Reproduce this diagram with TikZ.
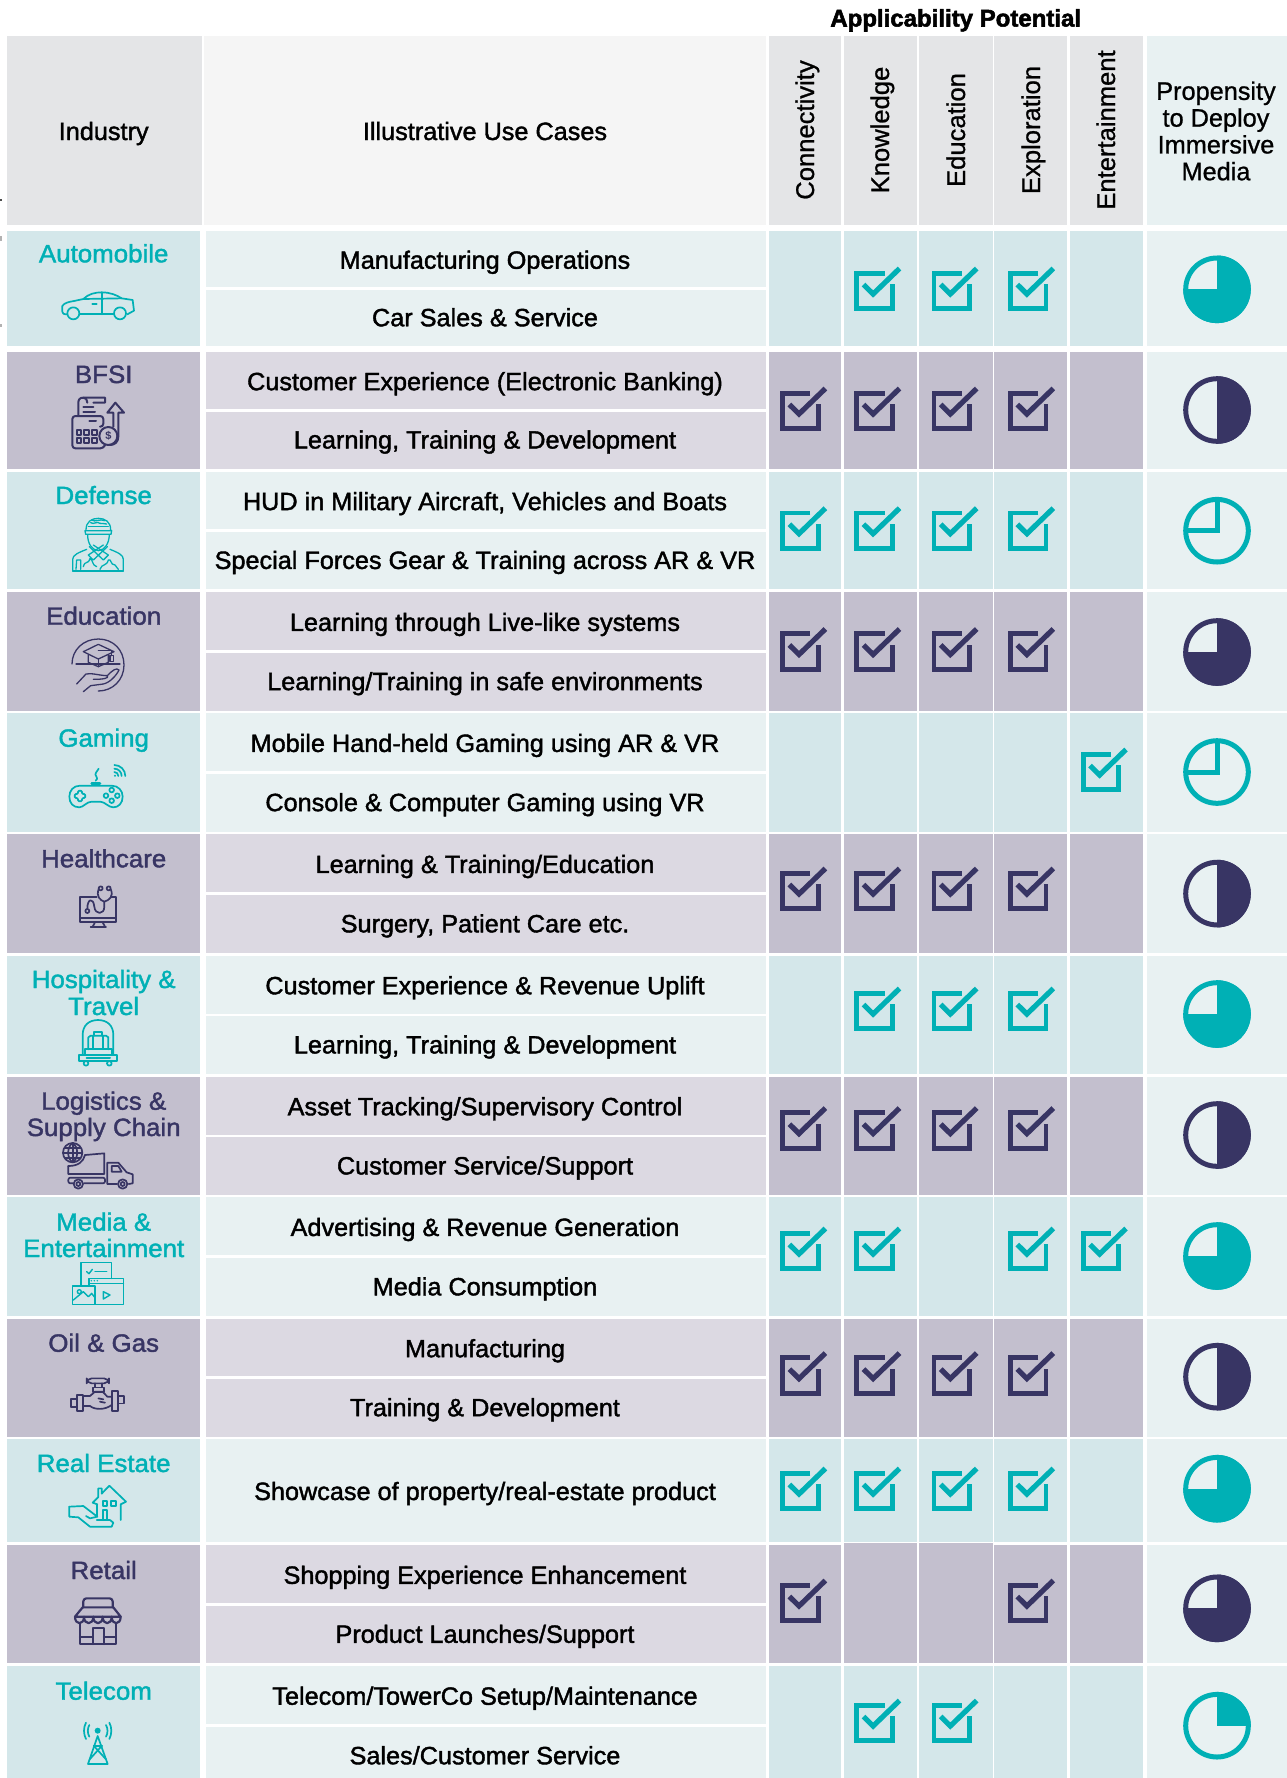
\documentclass[tikz,border=0pt]{standalone}
\usepackage{fontspec}
\setmainfont{Liberation Sans}
\newfontfamily\ucf[FakeStretch=1.01,FakeBold=1.6]{Liberation Sans}
\newfontfamily\indf[FakeStretch=1.035,FakeBold=1.6]{Liberation Sans}
\newfontfamily\hdf[FakeBold=.9]{Liberation Sans}
\newfontfamily\ttf[FakeBold=2.2]{Liberation Sans Bold}
\definecolor{cellT}{HTML}{D4E7EA}
\definecolor{cellN}{HTML}{C3BFCE}
\definecolor{ucT}{HTML}{E8F1F2}
\definecolor{ucN}{HTML}{DCD9E2}
\definecolor{accT}{HTML}{00B0B5}
\definecolor{accN}{HTML}{383564}
\definecolor{hdA}{HTML}{E4E5E7}
\definecolor{hdB}{HTML}{F5F5F5}
\tikzset{
 lbl/.style={inner sep=0pt,text height=20pt,text depth=2pt,font=\ucf\fontsize{25}{27}\selectfont},
 ilbl/.style={inner sep=0pt,text height=20pt,text depth=2pt,font=\indf\fontsize{25}{27}\selectfont},
 vhd/.style={inner sep=0pt,rotate=90,text height=18pt,text depth=6pt,font=\hdf\fontsize{25.6}{27}\selectfont},
 ico/.style={x=.33333pt,y=-.33333pt,line width=1.7pt,line join=round,line cap=round},
}
\newcommand{\colsbg}[3]{\foreach \l/\r in {769/841.1,843.5/917,919/992.5,994/1067,1070/1142.5}{\fill[cell#3] (\l,#1) rectangle (\r,#2);}
 \fill[ucT] (1147,#1) rectangle (1287,#2);}
\newcommand{\tworow}[6]{% name top bot theme text1 text2
 \fill[cell#4] (7,#2) rectangle (200.4,#3);
 \colsbg{#2}{#3}{#4}
 \pgfmathsetmacro{\mc}{(#2+#3)/2}
 \fill[uc#4] (205.7,#2) rectangle (766,\mc-1.3);
 \fill[uc#4] (205.7,\mc+1.3) rectangle (766,#3);
 \node[lbl] (#1a) at (485,{(#2+\mc)/2}) {#5};
 \node[lbl] (#1b) at (485,{(#3+\mc)/2}) {#6};
}
\newcommand{\indl}[4]{\node[ilbl,text=acc#2] (#1) at (103.7,#3) {#4};}
\newcommand{\chks}[3]{\foreach \xc in {#3}{%
 \draw[acc#2,line width=4.9pt,miter limit=4] (\xc+10,#1-17.7) -- (\xc-17.7,#1-17.7) -- (\xc-17.7,#1+17.7) -- (\xc+17.7,#1+17.7) -- (\xc+17.7,#1-7);
 \draw[acc#2,line width=5.2pt] (\xc-11,#1-6.5) -- (\xc-1.4,#1+3) -- (\xc+25,#1-22.5);}}
\newcommand{\pieq}[3]{% y theme kind
 \begin{scope}
 \clip (1217,#1) circle[radius=33.8];
 \ifcase#3\relax
 \or \fill[acc#2] (1217,#1-40) rectangle (1258,#1);
 \or \fill[acc#2] (1217,#1-40) rectangle (1258,#1+40);
 \or \fill[acc#2] (1217,#1-40) rectangle (1258,#1); \fill[acc#2] (1177,#1) rectangle (1258,#1+40);
 \fi
 \end{scope}
 \draw[acc#2,line width=5pt] (1217,#1) circle[radius=31.3];
 \ifnum#3=0 \draw[acc#2,line width=5pt] (1188,#1) -- (1217,#1) -- (1217,#1-31); \fi
}
\def\cC{800.4}\def\cK{874.5}\def\cE{951.7}\def\cX{1028.3}\def\cN{1101}
\begin{document}
\begin{tikzpicture}[x=1pt,y=-1pt]
\useasboundingbox (0,0) rectangle (1287,1778);
\fill[white] (0,0) rectangle (1287,1778);
% header
\node[inner sep=0pt,text height=18pt,text depth=1pt,font=\ttf\fontsize{24}{26}\selectfont] (title) at (955.7,18) {Applicability Potential};
\fill[hdA] (7,36) rectangle (201.6,225.3);
\fill[hdB] (204,36) rectangle (766,225.3);
\foreach \l/\r in {769/841.1,843.5/917,919/992.5,994/1067,1070/1142.5}{\fill[hdA] (\l,36) rectangle (\r,225.3);}
\fill[ucT] (1147,36) rectangle (1287,225.3);
\node[lbl] (hi) at (103.7,131) {Industry};
\node[lbl] (hu) at (485,131) {Illustrative Use Cases};
\node[vhd] (v1) at (808,130) {Connectivity};
\node[vhd] (v2) at (883,130) {Knowledge};
\node[vhd] (v3) at (959,130) {Education};
\node[vhd] (v4) at (1034,130) {Exploration};
\node[vhd] (v5) at (1109,130) {Entertainment};
\node[inner sep=0pt,align=center,font=\hdf\fontsize{25.3}{26.8}\selectfont] (vp) at (1216,131) {Propensity\\to Deploy\\Immersive\\Media};
% rows
\tworow{r1}{231}{346}{T}{Manufacturing Operations}{Car Sales \& Service}
\tworow{r2}{352}{468.7}{N}{Customer Experience (Electronic Banking)}{Learning, Training \& Development}
\tworow{r3}{471.7}{589.3}{T}{HUD in Military Aircraft, Vehicles and Boats}{Special Forces Gear \& Training across AR \& VR}
\tworow{r4}{592.3}{710.7}{N}{Learning through Live-like systems}{Learning/Training in safe environments}
\tworow{r5}{713.3}{831.7}{T}{Mobile Hand-held Gaming using AR \& VR}{Console \& Computer Gaming using VR}
\tworow{r6}{834.3}{953}{N}{Learning \& Training/Education}{Surgery, Patient Care etc.}
\tworow{r7}{955.7}{1074}{T}{Customer Experience \& Revenue Uplift}{Learning, Training \& Development}
\tworow{r8}{1076.7}{1195}{N}{Asset Tracking/Supervisory Control}{Customer Service/Support}
\tworow{r9}{1197.3}{1316}{T}{Advertising \& Revenue Generation}{Media Consumption}
\tworow{r10}{1318.7}{1436.7}{N}{Manufacturing}{Training \& Development}
% real estate single
\fill[cellT] (7,1439.3) rectangle (200.4,1542.3);
\colsbg{1439.3}{1542.3}{T}
\fill[ucT] (205.7,1439.3) rectangle (766,1542.3);
\node[lbl] (r11a) at (485,1491) {Showcase of property/real-estate product};
\tworow{r12}{1545.3}{1663.3}{N}{Shopping Experience Enhancement}{Product Launches/Support}
\fill[cellN] (843.5,1543) rectangle (917,1546);
\fill[cellN] (919,1543) rectangle (992.5,1546);
\tworow{r13}{1666}{1785}{T}{Telecom/TowerCo Setup/Maintenance}{Sales/Customer Service}
% checks
\chks{291}{T}{\cK,\cE,\cX}
\chks{411}{N}{\cC,\cK,\cE,\cX}
\chks{530.7}{T}{\cC,\cK,\cE,\cX}
\chks{651.5}{N}{\cC,\cK,\cE,\cX}
\chks{772}{T}{\cN}
\chks{891}{N}{\cC,\cK,\cE,\cX}
\chks{1011}{T}{\cK,\cE,\cX}
\chks{1130.6}{N}{\cC,\cK,\cE,\cX}
\chks{1251}{T}{\cC,\cK,\cX,\cN}
\chks{1375.6}{N}{\cC,\cK,\cE,\cX}
\chks{1491}{T}{\cC,\cK,\cE,\cX}
\chks{1603}{N}{\cC,\cX}
\chks{1723}{T}{\cK,\cE}
% pies
\pieq{289.3}{T}{3}
\pieq{410}{N}{2}
\pieq{530.7}{T}{0}
\pieq{652}{N}{3}
\pieq{772}{T}{0}
\pieq{893.6}{N}{2}
\pieq{1014}{T}{3}
\pieq{1135}{N}{2}
\pieq{1256}{T}{3}
\pieq{1376.7}{N}{2}
\pieq{1488.7}{T}{3}
\pieq{1608.3}{N}{3}
\pieq{1725.7}{T}{1}
% industry labels
\indl{i1}{T}{253.3}{Automobile}
\indl{i2}{N}{374}{BFSI}
\indl{i3}{T}{495}{Defense}
\indl{i4}{N}{615.7}{Education}
\indl{i5}{T}{737.7}{Gaming}
\indl{i6}{N}{858.3}{Healthcare}
\indl{i7a}{T}{979}{Hospitality \&}
\indl{i7b}{T}{1006}{Travel}
\indl{i8a}{N}{1100.7}{Logistics \&}
\indl{i8b}{N}{1127}{Supply Chain}
\indl{i9a}{T}{1221.7}{Media \&}
\indl{i9b}{T}{1248}{Entertainment}
\indl{i10}{N}{1342.7}{Oil \& Gas}
\indl{i11}{T}{1463}{Real Estate}
\indl{i12}{N}{1570}{Retail}
\indl{i13}{T}{1690.7}{Telecom}
% car
\begin{scope}[shift={(50,280)},ico,accT]
\draw (52,103) .. controls (40,103) and (37,100) .. (37,95) -- (37,78) .. controls (42,68) and (60,65) .. (72,63) -- (100,57) .. controls (115,42) and (135,37) .. (155,37) .. controls (180,37) and (200,45) .. (215,55) -- (248,60) -- (252,92) -- (232,103);
\draw (90,103) -- (190,103);
\draw (155,37) -- (155,103);
\draw (100,57) -- (215,55);
\draw (127,72) -- (140,72);
\draw (70,100) circle[radius=18];
\draw (210,100) circle[radius=18];
\end{scope}
% bfsi
\begin{scope}[shift={(50,280)},ico,accN,line width=2pt]
\draw (85,405) -- (85,368) .. controls (85,358) and (90,353) .. (100,353) -- (165,353) -- (165,368) -- (130,368);
\draw (100,353) .. controls (108,353) and (112,360) .. (112,368);
\draw (100,382) -- (130,382);
\draw (100,395) -- (135,395);
\draw[rounded corners=3pt] (150,440) -- (160,440) -- (160,408) -- (67,408) -- (67,505) -- (160,505) -- (165,495);
\draw (118,422) -- (138,422);
\foreach \xx in {80,103,126}{\draw (\xx,450) rectangle (\xx+14,465); \draw (\xx,475) rectangle (\xx+14,490);}
\draw (175,468) circle[radius=27];
\node[inner sep=0pt,font=\bfseries\fontsize{11}{12}\selectfont,text=accN] (dol) at (175,468) {\$};
\draw (190,440) -- (190,398) -- (172,398) -- (196,368) -- (222,398) -- (205,398) -- (205,470) .. controls (205,485) and (195,495) .. (180,495);
\end{scope}
% soldier
\begin{scope}[shift={(50,510)},ico,accT,line width=1.3pt]
\draw (108,60) .. controls (108,35) and (125,25) .. (145,25) .. controls (165,25) and (182,35) .. (182,60);
\draw (105,62) -- (185,62) -- (183,73) -- (107,73) -- cycle;
\draw (115,50) -- (175,50);
\draw (122,38) .. controls (132,45) and (140,32) .. (150,40) .. controls (158,46) and (162,35) .. (170,42);
\draw (125,30) .. controls (135,38) and (150,25) .. (165,32);
\draw (113,75) .. controls (113,100) and (125,120) .. (145,122) .. controls (165,120) and (177,100) .. (178,75);
\draw (68,183) -- (68,148) .. controls (68,135) and (85,128) .. (110,118);
\draw (220,183) -- (220,148) .. controls (220,135) and (205,128) .. (180,118);
\draw (68,183) -- (220,183);
\draw (118,110) -- (160,150) -- (175,135) -- (130,105);
\draw (172,110) -- (130,150) -- (115,135) -- (160,105);
\draw (78,178) -- (80,150) -- (92,150) -- (92,178);
\draw (100,170) .. controls (105,150) and (115,165) .. (120,145) .. controls (130,150) and (125,165) .. (140,170);
\draw (150,178) .. controls (155,160) and (170,170) .. (175,150) .. controls (185,145) and (180,165) .. (195,165) -- (205,178);
\end{scope}
% education
\begin{scope}[shift={(50,510)},ico,accN,line width=1.3pt]
\draw (66,462) .. controls (66,420) and (100,387) .. (145,387) .. controls (190,387) and (222,420) .. (222,465) .. controls (222,510) and (188,543) .. (145,543);
\draw[dash pattern=on 55pt off 3pt on 25pt off 3pt] (78,462) -- (210,462);
\draw (145,403) -- (192,425) -- (145,447) -- (100,425) -- cycle;
\draw (115,435) -- (115,457) -- (145,470) -- (175,457) -- (175,435);
\draw (145,447) -- (145,470);
\draw (145,422) -- (185,422) -- (185,437);
\draw (180,437) rectangle (190,455);
\draw (80,522) -- (108,492) .. controls (125,488) and (150,497) .. (172,497) .. controls (178,505) and (160,508) .. (130,508);
\draw (100,545) -- (122,527) -- (160,522) .. controls (180,518) and (200,495) .. (207,480) .. controls (200,472) and (188,480) .. (172,497);
\end{scope}
% gaming
\begin{scope}[shift={(50,750)},ico,accT]
\draw (90,107) -- (185,107) .. controls (205,107) and (218,122) .. (218,140) .. controls (218,160) and (205,172) .. (190,172) .. controls (175,172) and (165,155) .. (150,155) -- (125,155) .. controls (110,155) and (100,172) .. (88,172) .. controls (70,172) and (58,160) .. (58,140) .. controls (58,122) and (70,107) .. (90,107);
\draw[rounded corners=1.2pt] (84,122) -- (96,122) -- (96,132) -- (106,132) -- (106,144) -- (96,144) -- (96,154) -- (84,154) -- (84,144) -- (74,144) -- (74,132) -- (84,132) -- cycle;
\foreach \ax/\ay in {185/120,168/137,202/137,185/152}{\draw (\ax,\ay) circle[radius=7];}
\draw[line width=2.6pt] (125,100) -- (150,100);
\draw (137,92) .. controls (150,85) and (130,75) .. (138,68) -- (146,56);
\foreach \ra in {12,22,33}{\draw (193,{78-\ra}) .. controls ({193+.55*\ra},{78-\ra}) and ({193+\ra},{78-.55*\ra}) .. ({193+\ra},78);}
\fill (195,77) circle[radius=3.5];
\end{scope}
% healthcare
\begin{scope}[shift={(50,750)},ico,accN]
\draw (140,440) -- (90,440) -- (90,515) -- (197,515) -- (197,440) -- (183,440);
\draw (90,505) -- (197,505);
\draw (135,517) -- (128,530);
\draw (158,517) -- (165,530);
\draw (122,531) -- (168,531);
\draw (152,415) circle[radius=6];
\draw (176,415) circle[radius=6];
\draw (146,417) .. controls (138,440) and (150,450) .. (163,455) .. controls (178,450) and (192,440) .. (182,417);
\draw (163,455) -- (163,470) .. controls (163,495) and (135,495) .. (133,470) .. controls (130,442) and (112,445) .. (112,476);
\draw (112,483) circle[radius=6];
\end{scope}
% hospitality
\begin{scope}[shift={(50,1010)},ico,accT]
\draw (98,135) -- (98,75) .. controls (98,45) and (118,30) .. (144,30) .. controls (170,30) and (190,45) .. (190,75) -- (190,135);
\draw (87,135) rectangle (202,152);
\draw[line width=2pt] (110,144) -- (180,144);
\draw (108,160) circle[radius=7];
\draw (178,160) circle[radius=7];
\draw (115,118) -- (115,82) -- (122,77) -- (168,77) -- (175,82) -- (175,118);
\draw (133,77) -- (133,67) -- (157,67) -- (157,77);
\draw (130,77) -- (130,118);
\draw (160,77) -- (160,118);
\draw (105,135) -- (105,118) -- (185,118) -- (185,135);
\end{scope}
% logistics
\begin{scope}[shift={(50,1010)},ico,accN]
\draw (105,435) -- (163,430) -- (163,492) -- (55,492) -- (55,468);
\draw (55,468) .. controls (85,468) and (100,455) .. (105,435);
\draw[rounded corners=2pt] (70,520) -- (55,520) -- (55,503) -- (165,503) -- (165,520) -- (102,520);
\draw (85,522) circle[radius=14];
\draw (85,522) circle[radius=6];
\draw (218,522) circle[radius=14];
\draw (218,522) circle[radius=6];
\draw (200,522) -- (172,522) -- (172,458) -- (205,458) -- (230,487) -- (248,493) -- (248,520) -- (236,522);
\draw (185,468) -- (205,468) -- (215,485) -- (185,485) -- cycle;
\filldraw[fill=cellN] (68,428) circle[radius=29];
\draw (68,399) .. controls (50,410) and (50,446) .. (68,457);
\draw (68,399) .. controls (86,410) and (86,446) .. (68,457);
\draw (68,399) -- (68,457);
\draw (39,428) -- (97,428);
\draw (44,413) -- (92,413);
\draw (44,443) -- (92,443);
\end{scope}
% media
\begin{scope}[shift={(50,1250)},ico,accT,line width=1.4pt]
\draw (93,108) -- (93,38) -- (185,38) -- (185,85);
\draw (110,65) -- (117,71) -- (127,58);
\draw (135,64) -- (170,64);
\draw (117,108) -- (117,85) -- (220,85) -- (220,163) -- (135,163);
\draw (117,100) -- (220,100);
\foreach \dx in {124,133,142}{\fill (\dx,92) circle[radius=2.5];}
\draw (68,108) rectangle (135,163);
\draw (70,150) -- (100,125) -- (115,140) -- (125,130) -- (135,143);
\draw (88,125) circle[radius=6];
\draw (160,125) -- (180,135) -- (160,147) -- cycle;
\end{scope}
% oil
\begin{scope}[shift={(50,1250)},ico,accN]
\draw[rounded corners=5pt] (110,385) rectangle (177,400);
\draw (135,400) -- (135,412) -- (155,412) -- (155,400);
\draw (128,412) rectangle (162,425);
\draw (100,438) -- (120,438) -- (135,425) -- (158,425) -- (172,440) -- (185,440);
\draw (100,468) -- (120,468) .. controls (135,480) and (165,480) .. (185,465);
\draw (150,455) -- (165,458);
\draw (145,445) -- (160,448);
\draw (80,435) rectangle (100,483);
\draw (63,447) -- (80,447);
\draw (63,470) -- (80,470);
\draw (63,447) -- (63,470);
\draw (185,422) rectangle (205,482);
\draw (205,437) -- (223,437) -- (223,460) -- (205,460);
\end{scope}
% real estate
\begin{scope}[shift={(0,1370)},ico,accT]
\draw (292,403) -- (278,398) -- (295,381) -- (295,355) -- (305,355) -- (305,371) -- (328,347) -- (378,395) -- (362,403) -- (362,450);
\draw (292,403) -- (292,438);
\draw (308,392) rectangle (322,407);
\draw (333,392) rectangle (348,407);
\draw (308,448) -- (308,420) -- (322,420) -- (322,450);
\draw (208,410) -- (250,408) -- (292,440) -- (270,445) -- (258,438);
\draw (208,410) -- (208,440) -- (235,442) -- (270,470) -- (335,470) -- (340,458) -- (330,450) -- (290,450);
\end{scope}
% retail
\begin{scope}[shift={(0,1370)},ico,accN,line width=2.2pt]
\draw[rounded corners=3pt] (250,712) -- (250,685) -- (338,685) -- (338,712);
\draw (248,712) -- (340,712) -- (362,740) -- (225,740) -- cycle;
\draw (225,740) .. controls (225,766) and (252,766) .. (252,740) .. controls (252,766) and (280,766) .. (280,740) .. controls (280,766) and (308,766) .. (308,740) .. controls (308,766) and (335,766) .. (335,740) .. controls (335,766) and (362,766) .. (362,740);
\draw (240,762) -- (240,822) -- (347,822) -- (347,762);
\draw (278,822) -- (278,773) -- (312,773) -- (312,822);
\draw (240,800) -- (278,800);
\draw (312,800) -- (347,800);
\end{scope}
% telecom
\begin{scope}[shift={(0,1370)},ico,accT]
\fill (293,1082) circle[radius=9];
\draw (268,1065) .. controls (262,1075) and (262,1090) .. (268,1100);
\draw (258,1058) .. controls (250,1072) and (250,1092) .. (258,1107);
\draw (318,1065) .. controls (324,1075) and (324,1090) .. (318,1100);
\draw (328,1058) .. controls (336,1072) and (336,1092) .. (328,1107);
\draw (293,1098) -- (264,1182) -- (323,1182) -- cycle;
\draw (281,1127) -- (306,1127);
\draw (281,1127) -- (318,1168);
\draw (306,1127) -- (269,1168);
\end{scope}
% edge marks
\fill[black!70] (0,198.5) rectangle (2,201);
\fill[black!30] (0,236) rectangle (1.6,241);
\fill[black!30] (0,324) rectangle (1.6,327);
\end{tikzpicture}
\end{document}
